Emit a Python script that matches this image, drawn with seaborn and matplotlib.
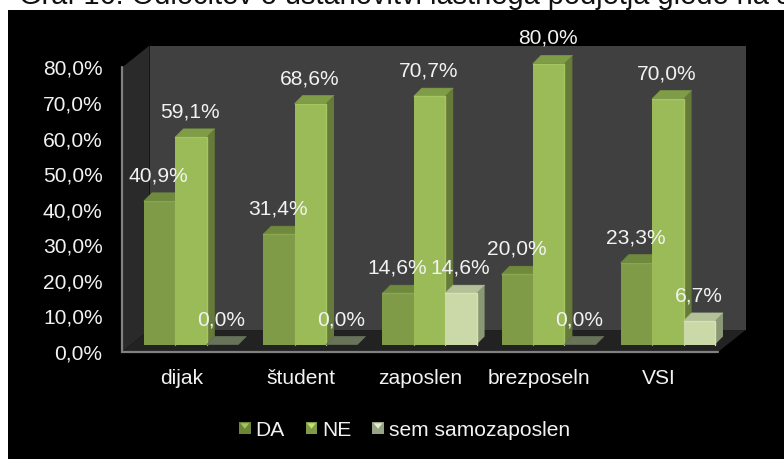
import matplotlib
matplotlib.use("Agg")
import matplotlib.pyplot as plt
import numpy as np
import pandas as pd
import seaborn as sns
from matplotlib.lines import Line2D
from matplotlib.legend_handler import HandlerBase
from matplotlib.patches import Polygon, Rectangle

# ---- data ----
categories = ["dijak", "študent", "zaposlen", "brezposeln", "VSI"]
series_names = ["DA", "NE", "sem samozaposlen"]
da_values = [40.9, 31.4, 14.6, 20.0, 23.3]
ne_values = [59.1, 68.6, 70.7, 80.0, 70.0]
self_values = [0.0, 0.0, 14.6, 0.0, 6.7]
y_ticks = [0, 10, 20, 30, 40, 50, 60, 70, 80]
title_text = "Graf 16. Odločitev o ustanovitvi lastnega podjetja glede na status"

# ---- style ----
front_colors = {"DA": "#7f9b48", "NE": "#9bbb59", "sem samozaposlen": "#cbd9a8"}
top_colors = {"DA": "#6f8a3c", "NE": "#7f9c46", "sem samozaposlen": "#b4c198"}
side_colors = {"DA": "#5d7033", "NE": "#667a3a", "sem samozaposlen": "#8b9876"}
shine_colors = {"DA": "#8aa64e", "NE": "#a6c661", "sem samozaposlen": "#d6e1b6"}
zero_color = "#68735a"
text_color = "#f2f2f2"
label_size = 15.1
W, H = 784, 459

sns.set_theme(style="white")
plt.rcParams["font.family"] = ["Liberation Sans", "DejaVu Sans"]
plt.rcParams["axes.unicode_minus"] = False

fig = plt.figure(figsize=(W / 100, H / 100), dpi=100, facecolor="white")
fig.patches.append(Rectangle((8 / W, 0.5 / H), (W - 8) / W, 448.5 / H, transform=fig.transFigure,
                             facecolor="black", edgecolor="none", zorder=-10))
fig.text(19 / W, (H - 3.5) / H, title_text, fontsize=20.85, color="#111111", ha="left", va="baseline")


def px_rect(left, right, bottom, top):
    return [left / W, (H - bottom) / H, (right - left) / W, (bottom - top) / H]


# frame axes: front plane of the 3D box, carries the tick labels
frame = fig.add_axes(px_rect(122, 718, 352, 67.5))
frame.set_facecolor("none")
frame.set_xlim(-0.5, 4.5)
frame.set_ylim(0, 80)
frame.set_xticks(range(len(categories)), categories)
frame.set_yticks(y_ticks, [f"{v:.1f}%".replace(".", ",") for v in y_ticks])
frame.tick_params(axis="both", length=0, labelsize=label_size, labelcolor=text_color)
frame.tick_params(axis="y", pad=14)
frame.tick_params(axis="x", pad=12)
for side in frame.spines.values():
    side.set_visible(False)

dx, dy = 27.5 / 596, 22 / 285
t = frame.transAxes
frame.add_patch(Polygon([(dx, dy), (1 + dx, dy), (1 + dx, 1 + dy), (dx, 1 + dy)], transform=t,
                        facecolor="#404040", edgecolor="none", clip_on=False, zorder=0.1))
frame.add_patch(Polygon([(0, 0), (dx, dy), (dx, 1 + dy), (0, 1)], transform=t,
                        facecolor="#2a2a2a", edgecolor="none", clip_on=False, zorder=0.2))
frame.add_patch(Polygon([(0, 0), (1, 0), (1 + dx, dy), (dx, dy)], transform=t,
                        facecolor="#222222", edgecolor="none", clip_on=False, zorder=0.3))
frame.add_line(Line2D([0, 0, 1], [1, 0, 0], transform=t, color="#808080", lw=1.6,
                      clip_on=False, zorder=0.4, solid_joinstyle="miter"))

# bar axes: the plane on which the bars stand, half way into the box
ax = fig.add_axes(px_rect(131.5, 727.5, 344.5, 63.5))
ax.set_facecolor("none")
table = pd.DataFrame({
    "status": categories * 3,
    "serija": np.repeat(series_names, len(categories)),
    "delež": da_values + ne_values + self_values,
})
sns.barplot(data=table, x="status", y="delež", hue="serija", hue_order=series_names,
            order=categories, palette=front_colors, width=0.79, gap=0, saturation=1,
            dodge=True, legend=False, ax=ax, linewidth=0)
ax.set_xlim(-0.5, 4.5)
ax.set_ylim(0, 80)
ax.axis("off")

depth_x = 8 / 596 * 5
depth_y = 8 / 281 * 80
for serie_no, (name, container) in enumerate(zip(series_names, ax.containers)):
    for cat_no, bar in enumerate(container):
        x0 = bar.get_x()
        x1 = x0 + bar.get_width()
        h = bar.get_height()
        z = 2 + cat_no * 10 + serie_no * 2
        bar.set_zorder(z + 1)
        bar.set_clip_on(False)
        top_face = zero_color if h == 0 else top_colors[name]
        ax.add_patch(Polygon([(x0, h), (x1, h), (x1 + depth_x, h + depth_y), (x0 + depth_x, h + depth_y)],
                             facecolor=top_face, edgecolor=top_face, lw=0.5, joinstyle="round",
                             clip_on=False, zorder=z))
        if h > 0:
            ax.add_patch(Polygon([(x1, 0), (x1 + depth_x, depth_y), (x1 + depth_x, h + depth_y), (x1, h)],
                                 facecolor=side_colors[name], edgecolor="none", clip_on=False, zorder=z))
            ax.add_line(Line2D([x0, x1, x1], [h, h, 0], color=shine_colors[name], lw=1.0,
                               clip_on=False, zorder=z + 1.5))
        ax.annotate(f"{h:.1f}%".replace(".", ","), xy=((x0 + x1) / 2, h), xytext=(-0.7, 18),
                    textcoords="offset points", ha="center", va="center", fontsize=label_size,
                    color=text_color, zorder=200, annotation_clip=False)


class BevelHandler(HandlerBase):
    def __init__(self, base, shine):
        super().__init__()
        self.base, self.shine = base, shine

    def create_artists(self, legend, orig_handle, xd, yd, width, height, fontsize, trans):
        square = Rectangle((xd * -1, -yd), width, height, facecolor=self.base, edgecolor="none", transform=trans)
        tri = Polygon([(-xd + width * .12, -yd + height * .88), (-xd + width * .88, -yd + height * .88),
                       (-xd + width * .5, -yd + height * .45)], facecolor=self.shine, edgecolor="none",
                      transform=trans)
        return [square, tri]


legend_base = {"DA": "#6d8538", "NE": "#7f9b48", "sem samozaposlen": "#97a386"}
legend_shine = {"DA": "#a3c45c", "NE": "#c4e070", "sem samozaposlen": "#e4ecd2"}
handles = [Rectangle((0, 0), 1, 1, label=n) for n in series_names]
leg = fig.legend(handles=handles, labels=series_names, ncol=3, loc="center left",
                 bbox_to_anchor=(239 / W, (H - 430) / H), frameon=False, fontsize=label_size,
                 handlelength=0.56, handleheight=0.56, handletextpad=0.22, columnspacing=1.0,
                 borderpad=0, borderaxespad=0, labelcolor=text_color,
                 handler_map={h: BevelHandler(legend_base[n], legend_shine[n]) for h, n in zip(handles, series_names)})

fig.savefig("out.png", dpi=100, facecolor="white")
